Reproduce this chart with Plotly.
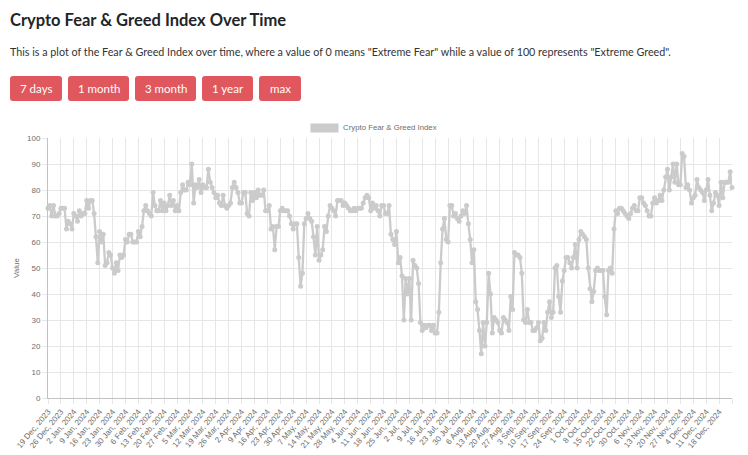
import plotly.graph_objects as go
import pandas as pd

# ---- data -------------------------------------------------------------
# daily dates shown on the category axis (one day missing in late October)
all_days = pd.date_range("2023-12-19", "2024-12-25", freq="D")
missing_day = pd.Timestamp("2024-10-27")
dates = [d for d in all_days if d != missing_day]
date_labels = [f"{d.day} {d.strftime('%b')}, {d.year}" for d in dates]

index_values = [
    73, 74, 70, 74, 70, 70, 71, 73, 73, 73,
    65, 68, 67, 65, 71, 70, 68, 72, 70, 71,
    71, 76, 73, 76, 76, 71, 62, 52, 64, 60,
    63, 51, 52, 56, 55, 50, 48, 52, 49, 55,
    54, 55, 61, 60, 63, 63, 60, 60, 60, 64,
    62, 66, 72, 74, 72, 71, 70, 79, 74, 72,
    72, 76, 72, 75, 72, 74, 78, 74, 76, 72,
    74, 72, 79, 82, 80, 80, 83, 82, 90, 75,
    82, 81, 84, 79, 82, 81, 81, 88, 83, 81,
    79, 77, 78, 75, 74, 78, 74, 73, 74, 75,
    81, 83, 81, 79, 75, 75, 79, 79, 71, 70,
    79, 76, 79, 77, 80, 78, 78, 80, 72, 72,
    74, 65, 66, 57, 66, 66, 72, 73, 72, 72,
    72, 70, 67, 65, 67, 67, 54, 43, 48, 67,
    69, 71, 69, 68, 62, 55, 66, 53, 55, 57,
    66, 64, 70, 74, 73, 72, 70, 76, 76, 76,
    74, 75, 74, 73, 72, 72, 73, 72, 73, 73,
    73, 75, 77, 78, 77, 72, 75, 73, 74, 72,
    70, 74, 74, 71, 71, 74, 63, 61, 59, 64,
    52, 54, 47, 30, 46, 40, 46, 30, 53, 51,
    50, 44, 29, 26, 28, 27, 28, 28, 26, 28,
    25, 25, 33, 52, 65, 69, 61, 60, 74, 74,
    70, 71, 69, 68, 70, 72, 71, 74, 67, 61,
    52, 57, 37, 34, 26, 17, 29, 20, 29, 48,
    40, 25, 31, 30, 29, 26, 25, 31, 30, 29,
    26, 39, 34, 56, 55, 55, 54, 48, 30, 29,
    34, 29, 29, 26, 26, 27, 29, 22, 23, 29,
    26, 33, 37, 31, 33, 50, 51, 39, 33, 45,
    49, 54, 54, 52, 50, 54, 59, 50, 61, 64,
    63, 62, 61, 50, 42, 37, 41, 49, 50, 49,
    49, 49, 39, 32, 49, 50, 48, 65, 72, 71,
    73, 73, 72, 71, 70, 69, 71, 73, 74, 72,
    72, 77, 77, 75, 74, 72, 70, 70, 75, 77,
    75, 76, 78, 76, 80, 85, 88, 80, 85, 90,
    83, 90, 82, 82, 94, 93, 81, 82, 80, 75,
    77, 78, 84, 81, 80, 79, 76, 80, 84, 78,
    72, 75, 79, 78, 74, 83, 77, 83, 83, 83,
    87, 81,
]
assert len(index_values) == len(date_labels)

tick_step = 7                              # weekly labels
n = len(date_labels)
tick_positions = list(range(0, n, tick_step))
# the final weekly gridline (last data point) carries no label
tick_labels = [date_labels[i] for i in tick_positions[:-1]] + [" "]
series_name = "Crypto Fear & Greed Index"
button_labels = ["7 days", "1 month", "3 month", "1 year", "max"]

# ---- page geometry (the page body has an 8px margin) ------------------
OFF = 8
W, H = 748 - OFF, 455 - OFF
# plot area in page pixels
PL, PR, PT, PB = 48, 732, 138, 398
L, R, T, B = PL - OFF, PR - OFF, PT - OFF, PB - OFF


def X(px):  # page pixel -> paper x
    return (px - OFF - L) / (R - L)


def Y(py):  # page pixel -> paper y
    return (B - (py - OFF)) / (B - T)


LINE_C = "#cbcbcb"
GRID_C = "#e6e6e6"
TXT_C = "#6e6e6e"
CHART_FONT = "Liberation Sans, Arial, sans-serif"
PAGE_FONT = "Lato, Noto Sans, sans-serif"

fig = go.Figure()
fig.add_trace(go.Scatter(
    x=date_labels, y=index_values, name=series_name,
    mode="lines+markers",
    line=dict(color=LINE_C, width=2.3),
    marker=dict(size=5, color=LINE_C),
    showlegend=False, cliponaxis=False,
))

fig.update_layout(
    width=W, height=H, autosize=False,
    margin=dict(l=L, r=W - R, t=T, b=H - B, pad=0),
    paper_bgcolor="white", plot_bgcolor="white",
    xaxis=dict(
        type="category", categoryorder="array", categoryarray=date_labels,
        range=[0, n - 1], automargin=False,
        tickmode="array", tickvals=tick_positions, ticktext=tick_labels,
        tickangle=-50, tickfont=dict(family=CHART_FONT, size=8, color=TXT_C),
        showgrid=True, gridcolor=GRID_C, gridwidth=1,
        ticks="outside", ticklen=5, tickcolor=GRID_C,
        showline=True, linecolor="#c2c2c2", linewidth=1, zeroline=False,
    ),
    yaxis=dict(
        range=[0, 100], tick0=0, dtick=10, automargin=False,
        tickfont=dict(family=CHART_FONT, size=8, color=TXT_C),
        showgrid=True, gridcolor=GRID_C, gridwidth=1,
        ticks="outside", ticklen=5, tickcolor=GRID_C,
        showline=True, linecolor="#c2c2c2", linewidth=1, zeroline=False,
        title=dict(text="Value", font=dict(family=CHART_FONT, size=8, color=TXT_C),
                   standoff=6),
    ),
    font=dict(family=CHART_FONT),
)

shapes = []
annotations = []

# legend (box + label)
shapes.append(dict(type="rect", xref="paper", yref="paper",
                   x0=X(310.5), x1=X(338.5), y0=Y(132.5), y1=Y(123.5),
                   fillcolor=LINE_C, line=dict(width=0), layer="above"))
annotations.append(dict(xref="paper", yref="paper", x=X(341), y=Y(128),
                        xanchor="left", yanchor="middle", showarrow=False,
                        text=series_name,
                        font=dict(family=CHART_FONT, size=7.8, color=TXT_C)))

# page heading and description
annotations.append(dict(xref="paper", yref="paper", x=X(8), y=Y(19.5),
                        xanchor="left", yanchor="middle", showarrow=False,
                        text="Crypto Fear & Greed Index Over Time",
                        font=dict(family=PAGE_FONT, size=16.5, color="#212529",
                                  weight=700)))
annotations.append(dict(xref="paper", yref="paper", x=X(8), y=Y(51),
                        xanchor="left", yanchor="middle", showarrow=False,
                        text='This is a plot of the Fear &amp; Greed Index over time, where a value of 0 means "Extreme Fear" while a value of 100 represents "Extreme Greed".',
                        font=dict(family=PAGE_FONT, size=10.75, color="#333333")))

# buttons
btn_x = [(10, 62), (68, 129), (135, 196), (202, 253), (259, 301)]
by0, by1, rad = 76, 101, 3
for lab, (bx0, bx1) in zip(button_labels, btn_x):
    rx = rad / (R - L)
    ry = rad / (B - T)
    x0, x1, y0, y1 = X(bx0), X(bx1), Y(by1), Y(by0)
    path = (f"M {x0+rx},{y0} L {x1-rx},{y0} Q {x1},{y0} {x1},{y0+ry} "
            f"L {x1},{y1-ry} Q {x1},{y1} {x1-rx},{y1} L {x0+rx},{y1} "
            f"Q {x0},{y1} {x0},{y1-ry} L {x0},{y0+ry} Q {x0},{y0} {x0+rx},{y0} Z")
    shapes.append(dict(type="path", xref="paper", yref="paper", path=path,
                       fillcolor="#e0575d", line=dict(width=0), layer="above"))
    annotations.append(dict(xref="paper", yref="paper",
                            x=X((bx0 + bx1) / 2), y=Y((by0 + by1) / 2),
                            xanchor="center", yanchor="middle", showarrow=False,
                            text=lab,
                            font=dict(family=PAGE_FONT, size=11.5, color="white")))

fig.update_layout(shapes=shapes, annotations=annotations)
fig.write_html("out.html")
